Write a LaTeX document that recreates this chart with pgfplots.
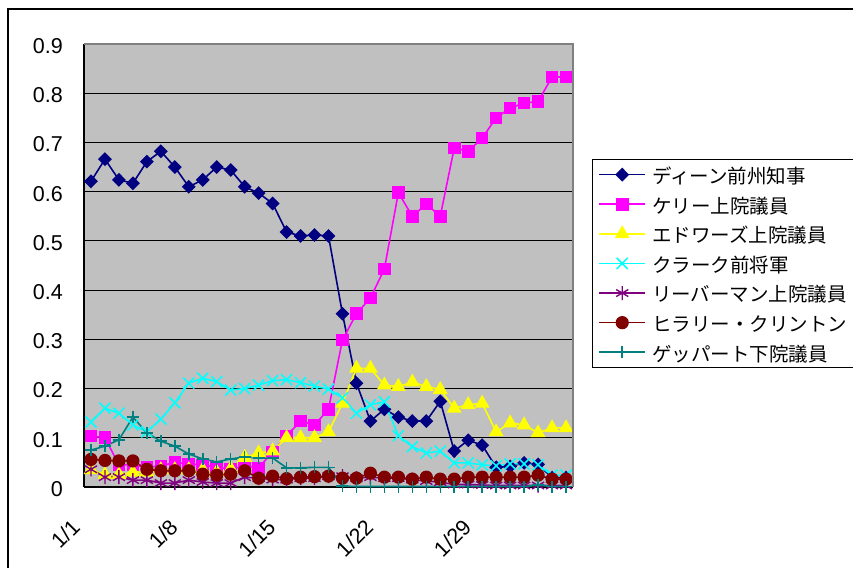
\documentclass[border=0pt]{standalone}
\usepackage{fontspec}
\setmainfont{Liberation Sans}
\newfontfamily\jp{Noto Sans CJK JP}
\usepackage{pgfplots}
\pgfplotsset{compat=1.18}
\usepackage{pgfplotstable}

\definecolor{cdean}{RGB}{0,0,128}
\definecolor{ckerry}{RGB}{255,0,255}
\definecolor{cedw}{RGB}{255,255,0}
\definecolor{cclark}{RGB}{0,255,255}
\definecolor{clieb}{RGB}{128,0,128}
\definecolor{cclin}{RGB}{128,0,0}
\definecolor{cgep}{RGB}{0,128,128}
\definecolor{plotbg}{RGB}{192,192,192}
\definecolor{bordergray}{RGB}{128,128,128}

\pgfplotstableread{
i dean kerry edwards clark lieb clin gep
0 0.621 0.104 0.035 0.132 0.036 0.056 0.075
1 0.666 0.100 0.025 0.160 0.020 0.054 0.083
2 0.624 0.045 0.025 0.150 0.020 0.053 0.096
3 0.617 0.045 0.030 0.126 0.014 0.053 0.142
4 0.661 0.040 0.030 0.112 0.014 0.036 0.110
5 0.682 0.043 0.035 0.138 0.008 0.033 0.093
6 0.650 0.050 0.035 0.171 0.008 0.033 0.083
7 0.610 0.047 0.035 0.211 0.014 0.033 0.067
8 0.624 0.045 0.035 0.221 0.010 0.026 0.057
9 0.650 0.040 0.030 0.214 0.008 0.024 0.051
10 0.644 0.036 0.037 0.197 0.008 0.026 0.057
11 0.610 0.043 0.060 0.200 0.020 0.033 0.061
12 0.597 0.039 0.069 0.207 0.018 0.018 0.059
13 0.576 0.071 0.073 0.216 0.015 0.022 0.059
14 0.518 0.104 0.100 0.218 0.015 0.017 0.039
15 0.510 0.134 0.100 0.212 0.018 0.020 0.039
16 0.512 0.126 0.100 0.205 0.018 0.021 0.040
17 0.510 0.158 0.112 0.199 0.022 0.022 0.040
18 0.352 0.299 0.170 0.181 0.022 0.018 0.002
19 0.211 0.352 0.241 0.150 0.018 0.018 0.001
20 0.134 0.384 0.241 0.167 0.020 0.028 0.001
21 0.158 0.443 0.207 0.173 0.018 0.020 0.001
22 0.142 0.598 0.204 0.104 0.018 0.020 0.001
23 0.134 0.550 0.213 0.082 0.015 0.016 0.001
24 0.134 0.575 0.204 0.069 0.012 0.020 0.001
25 0.174 0.550 0.198 0.073 0.010 0.016 0.001
26 0.073 0.689 0.160 0.049 0.005 0.016 0.001
27 0.095 0.682 0.167 0.049 0.005 0.020 0.001
28 0.085 0.709 0.170 0.045 0.004 0.020 0.001
29 0.040 0.750 0.112 0.043 0.003 0.020 0.001
30 0.042 0.770 0.130 0.047 0.003 0.020 0.001
31 0.049 0.780 0.126 0.047 0.003 0.020 0.001
32 0.046 0.783 0.110 0.045 0.003 0.024 0.004
33 0.019 0.833 0.120 0.024 0.003 0.016 0.001
34 0.019 0.833 0.120 0.024 0.003 0.016 0.001
}\data

\begin{document}
\begin{tikzpicture}[x=1pt,y=1pt]
\useasboundingbox (0,0) rectangle (853,568);
\draw[line width=1.5pt] (8,0) -- (8,559) -- (853,559);
\begin{axis}[
  at={(84pt,81pt)}, anchor=south west,
  scale only axis, width=489pt, height=443pt,
  xmin=-0.5, xmax=34.5, ymin=0, ymax=0.9,
  clip=false,
  axis background/.style={fill=plotbg},
  axis x line*=bottom, axis y line*=left,
  axis line style={line width=1.5pt, black},
  ymajorgrids, grid style={black, line width=0.9pt},
  ytick={0,0.1,0.2,0.3,0.4,0.5,0.6,0.7,0.8,0.9},
  yticklabels={0,0.1,0.2,0.3,0.4,0.5,0.6,0.7,0.8,0.9},
  tick align=inside, major tick length=9pt,
  ytick style={black, line width=1.2pt},
  yticklabel style={font=\fontsize{21.5}{25}\selectfont, inner sep=0pt, xshift=-21pt, yshift=-2pt},
  xtick={0,7,14,21,28},
  xticklabels={1/1,1/8,1/15,1/22,1/29},
  xtick style={draw=none},
  xticklabel style={font=\fontsize{21.5}{25}\selectfont, inner sep=0pt, xshift=-15pt, yshift=-36pt, rotate=45, anchor=east},
  legend cell align=left,
  legend image code/.code={\draw[mark repeat=2, mark phase=2, #1] plot coordinates {(0pt,0pt) (23pt,0pt) (46pt,0pt)};},
  legend style={at={(rel axis cs:1.0389,0.7404)}, anchor=north west,
    draw=black, line width=0.8pt, fill=white,
    font=\jp\fontsize{19.5}{22}\selectfont,
    nodes={inner sep=0pt, text height=18pt, text depth=0.5pt},
    column sep=6pt, row sep=11.1pt, inner xsep=6pt, inner ysep=6pt},
  every axis plot/.append style={line width=1.6pt},
  after end axis/.code={\draw[bordergray, line width=1.5pt] (rel axis cs:0,1) -- (rel axis cs:1,1) -- (rel axis cs:1,0);},
]
\addplot[cdean, mark=diamond*, mark size=5.8pt, mark options={xscale=1.33}] table[x=i, y=dean] {\data};
\addlegendentry{ディーン前州知事}
\addplot[ckerry, mark=square*, mark size=5.5pt] table[x=i, y=kerry] {\data};
\addlegendentry{ケリー上院議員}
\addplot[cedw, mark=triangle*, mark size=7pt] table[x=i, y=edwards] {\data};
\addlegendentry{エドワーズ上院議員}
\addplot[cclark, mark=x, mark size=7.8pt, mark options={line width=1.5pt}] table[x=i, y=clark] {\data};
\addlegendentry{クラーク前将軍}
\addplot[clieb, mark=asterisk, mark size=7pt, mark options={line width=1.4pt}] table[x=i, y=lieb] {\data};
\addlegendentry{リーバーマン上院議員}
\addplot[cclin, mark=*, mark size=5.8pt] table[x=i, y=clin] {\data};
\addlegendentry{ヒラリー・クリントン}
\addplot[cgep, mark=+, mark size=6pt, mark options={line width=1.5pt}] table[x=i, y=gep] {\data};
\addlegendentry{ゲッパート下院議員}
\end{axis}
\end{tikzpicture}
\end{document}
